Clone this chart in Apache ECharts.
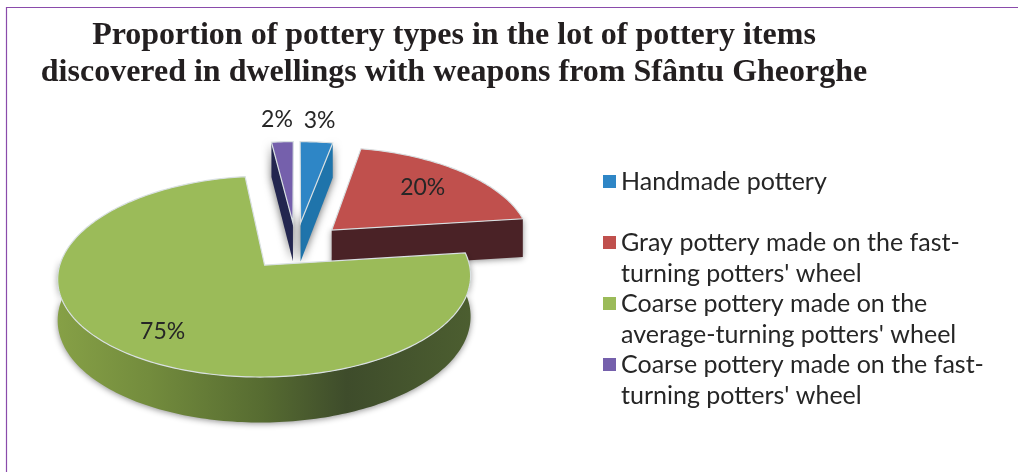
<!DOCTYPE html>
<html>
<head>
<meta charset="utf-8">
<style>html,body{margin:0;padding:0;background:#fff}#chart{width:1018px;height:472px}</style>
<script src="https://cdn.jsdelivr.net/npm/echarts@6/dist/echarts.min.js"></script>
</head>
<body>
<div id="chart"></div>
<script>
// Pottery types, clockwise from twelve o'clock
const categories = [
  'Handmade pottery',
  "Gray pottery made on the fast-\nturning potters' wheel",
  "Coarse pottery made on the\naverage-turning potters' wheel",
  "Coarse pottery made on the fast-\nturning potters' wheel"
];
const shares = [3, 20, 75, 2];

const topColors = ['#2e86c6', '#c0504d', '#9bbb59', '#7560ac'];
const wallColors = ['#1f74ab', '#4a2226', '#5d7234', '#23264f'];
const paintOrder = [2, 3, 4, 2];
const labelOffsets = [[19, -102], [91, -42], [-102, 66], [-16, -103]];

// Tilted-pie projection: pie units to pixels, nearer points drawn larger
const view = { cx: 296, cy: 246, rx: 200, ry: 95, kx: 0.12, ky: 0.11, depth: 39.5, explode: 0.25 };
const project = (X, Y, drop) => {
  const sx = 1 / (1 + view.kx * Y);
  const sy = 1 / (1 + view.ky * Y);
  return [view.cx + view.rx * X * sx, view.cy - view.ry * Y * sy + (drop ? view.depth * sy : 0)];
};

const total = shares.reduce((a, b) => a + b, 0);
const toRad = v => v / total * Math.PI * 2;

function sliceGeometry(index) {
  const before = shares.slice(0, index).reduce((a, b) => a + b, 0);
  const a0 = toRad(before);
  const a1 = toRad(before + shares[index]);
  const mid = (a0 + a1) / 2;
  const ox = Math.sin(mid) * view.explode;
  const oy = Math.cos(mid) * view.explode;
  const at = (a, drop) => project(ox + Math.sin(a), oy + Math.cos(a), drop);
  const arc = (from, to, drop) => {
    const steps = Math.max(2, Math.ceil(Math.abs(to - from) / 0.02));
    const pts = [];
    for (let i = 0; i <= steps; i++) pts.push(at(from + (to - from) * i / steps, drop));
    return pts;
  };
  return { a0, a1, at, arc, tip: project(ox, oy, false), tipLow: project(ox, oy, true) };
}

const rimLine = '#d9e0e2';
const softShadow = { shadowBlur: 6, shadowColor: 'rgba(0,0,0,0.45)', shadowOffsetY: 1 };
const narrowShadow = { shadowBlur: 9, shadowColor: 'rgba(0,0,0,0.6)', shadowOffsetY: 1 };

function drawSlice(index, api) {
  const g = sliceGeometry(index);
  const children = [];
  const poly = (points, style) => children.push({ type: 'polygon', shape: { points }, style });

  if (shares[index] > 50) {
    // Large slice: the curved outer wall shows along the whole front
    const from = g.a0;
    const to = Math.PI * 1.52;
    poly(g.arc(from, to, false).concat(g.arc(from, to, true).reverse()), Object.assign({
      fill: {
        type: 'linear', x: 0, y: 0, x2: 1, y2: 0,
        colorStops: [
          { offset: 0, color: '#86a046' },
          { offset: 0.22, color: '#738c3d' },
          { offset: 0.5, color: '#566b31' },
          { offset: 0.7, color: '#3e4c2b' },
          { offset: 1, color: '#4c5e30' }
        ]
      }
    }, softShadow));
  } else {
    // Cut face turned towards the viewer: right-hand edge, or left-hand past the half turn
    const edge = g.a0 > Math.PI ? g.a0 : g.a1;
    const shadow = shares[index] < 5 ? narrowShadow : softShadow;
    poly([g.tip, g.at(edge), g.at(edge, true), g.tipLow], Object.assign({ fill: wallColors[index] }, shadow));
  }

  poly([g.tip].concat(g.arc(g.a0, g.a1, false)), {
    fill: topColors[index], stroke: rimLine, lineWidth: 1.2
  });

  const off = labelOffsets[index];
  children.push({
    type: 'text',
    style: {
      text: api.value(0) + '%',
      x: g.tip[0] + off[0], y: g.tip[1] + off[1],
      align: 'center', verticalAlign: 'middle',
      font: '23px Lato', fill: '#262626'
    }
  });
  return { type: 'group', children };
}

// The legend's icon sits on the middle text line, so each entry is padded to three lines
const legendText = name => {
  const lines = name.split('\n');
  return ['\u00a0', lines[0], lines[1] || '\u00a0'].join('\n');
};

const chart = echarts.init(document.getElementById('chart'), null, { renderer: 'canvas' });
chart.setOption({
  animation: false,
  backgroundColor: '#ffffff',
  title: {
    text: 'Proportion of pottery types in the lot of pottery items\ndiscovered in dwellings with weapons from Sf\u00e2ntu Gheorghe',
    left: 449, top: 12, textAlign: 'center',
    textStyle: { fontFamily: 'Liberation Serif', fontWeight: 'bold', fontSize: 32, lineHeight: 37, color: '#231f20' }
  },
  legend: {
    orient: 'vertical', left: 598, top: 130,
    itemWidth: 13, itemHeight: 13, itemGap: -32,
    icon: 'rect', selectedMode: false,
    data: categories,
    formatter: legendText,
    textStyle: { fontFamily: 'Lato', fontSize: 25, lineHeight: 31, color: '#262626' }
  },
  graphic: [{
    // Frame along the top and left edges of the figure
    type: 'polyline', silent: true,
    shape: { points: [[1018, 7.5], [6.5, 7.5], [6.5, 472]] },
    style: { stroke: '#8a4bab', lineWidth: 1.2, fill: null }
  }],
  series: categories.map((name, i) => ({
    type: 'custom',
    name,
    coordinateSystem: 'none',
    z: paintOrder[i],
    silent: true,
    itemStyle: { color: topColors[i] },
    data: [shares[i]],
    renderItem: (params, api) => drawSlice(i, api)
  }))
});
</script>
</body>
</html>
